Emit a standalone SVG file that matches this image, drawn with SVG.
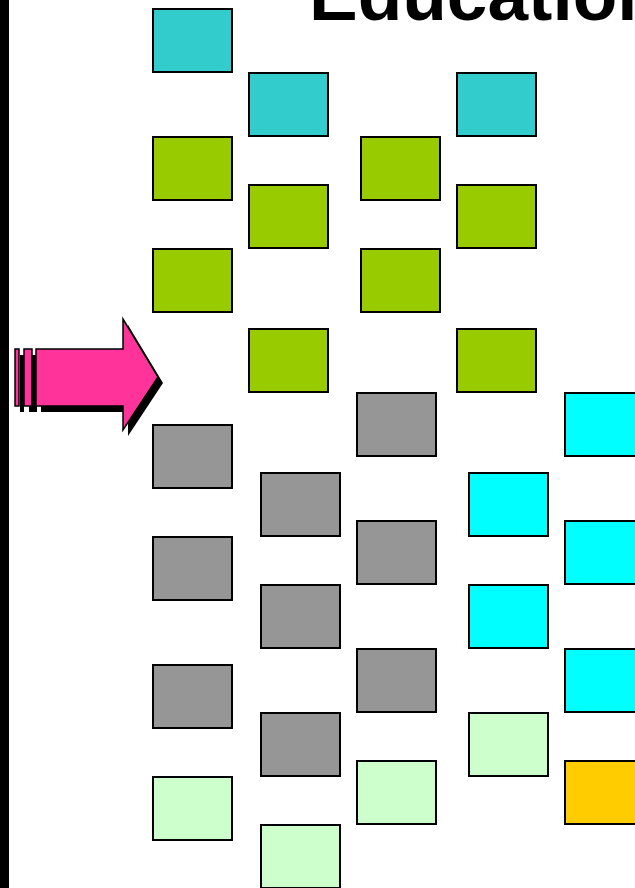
<svg xmlns="http://www.w3.org/2000/svg" width="635" height="888" viewBox="0 0 635 888">
<style>
.b{stroke:#000;stroke-width:2}
.teal{fill:#33CCCC}.grn{fill:#99CC00}.gry{fill:#969696}.cyn{fill:#00FFFF}.lg{fill:#CCFFCC}.org{fill:#FFCC00}
.title{font-family:"Liberation Sans",Arial,sans-serif;font-weight:bold;font-size:73px;fill:#000}
.pink{fill:#FF3399;stroke:#000;stroke-width:1.5}
</style>
<defs>
<g id="arrowShape">
<rect x="15" y="349" width="4" height="57"/>
<rect x="24" y="349" width="8" height="57"/>
<polygon points="36,349 123,349 123,319 158,377 123,430 123,406 36,406"/>
</g>
</defs>
<rect x="0" y="0" width="9" height="888" fill="#000"/>
<text class="title" x="309" y="20">Education</text>
<g id="arrow">
<use href="#arrowShape" transform="translate(5,6)" fill="#000"/>
<g class="pink">
<rect x="15" y="349" width="4" height="57"/>
<rect x="24" y="349" width="8" height="57"/>
<polygon points="36,349 123,349 123,319 158,377 123,430 123,406 36,406"/>
</g>
</g>
<g id="connectors"></g>
<g id="n1"><rect class="b teal" x="153" y="9" width="79" height="63"/></g>
<g id="n2"><rect class="b grn" x="153" y="137" width="79" height="63"/></g>
<g id="n3"><rect class="b grn" x="153" y="249" width="79" height="63"/></g>
<g id="n4"><rect class="b gry" x="153" y="425" width="79" height="63"/></g>
<g id="n5"><rect class="b gry" x="153" y="537" width="79" height="63"/></g>
<g id="n6"><rect class="b gry" x="153" y="665" width="79" height="63"/></g>
<g id="n7"><rect class="b lg" x="153" y="777" width="79" height="63"/></g>
<g id="n8"><rect class="b teal" x="249" y="73" width="79" height="63"/></g>
<g id="n9"><rect class="b grn" x="249" y="185" width="79" height="63"/></g>
<g id="n10"><rect class="b grn" x="249" y="329" width="79" height="63"/></g>
<g id="n11"><rect class="b gry" x="261" y="473" width="79" height="63"/></g>
<g id="n12"><rect class="b gry" x="261" y="585" width="79" height="63"/></g>
<g id="n13"><rect class="b gry" x="261" y="713" width="79" height="63"/></g>
<g id="n14"><rect class="b lg" x="261" y="825" width="79" height="63"/></g>
<g id="n15"><rect class="b grn" x="361" y="137" width="79" height="63"/></g>
<g id="n16"><rect class="b grn" x="361" y="249" width="79" height="63"/></g>
<g id="n17"><rect class="b gry" x="357" y="393" width="79" height="63"/></g>
<g id="n18"><rect class="b gry" x="357" y="521" width="79" height="63"/></g>
<g id="n19"><rect class="b gry" x="357" y="649" width="79" height="63"/></g>
<g id="n20"><rect class="b lg" x="357" y="761" width="79" height="63"/></g>
<g id="n21"><rect class="b teal" x="457" y="73" width="79" height="63"/></g>
<g id="n22"><rect class="b grn" x="457" y="185" width="79" height="63"/></g>
<g id="n23"><rect class="b grn" x="457" y="329" width="79" height="63"/></g>
<g id="n24"><rect class="b cyn" x="469" y="473" width="79" height="63"/></g>
<g id="n25"><rect class="b cyn" x="469" y="585" width="79" height="63"/></g>
<g id="n26"><rect class="b lg" x="469" y="713" width="79" height="63"/></g>
<g id="n27"><rect class="b cyn" x="565" y="393" width="79" height="63"/></g>
<g id="n28"><rect class="b cyn" x="565" y="521" width="79" height="63"/></g>
<g id="n29"><rect class="b cyn" x="565" y="649" width="79" height="63"/></g>
<g id="n30"><rect class="b org" x="565" y="761" width="79" height="63"/></g>
</svg>
